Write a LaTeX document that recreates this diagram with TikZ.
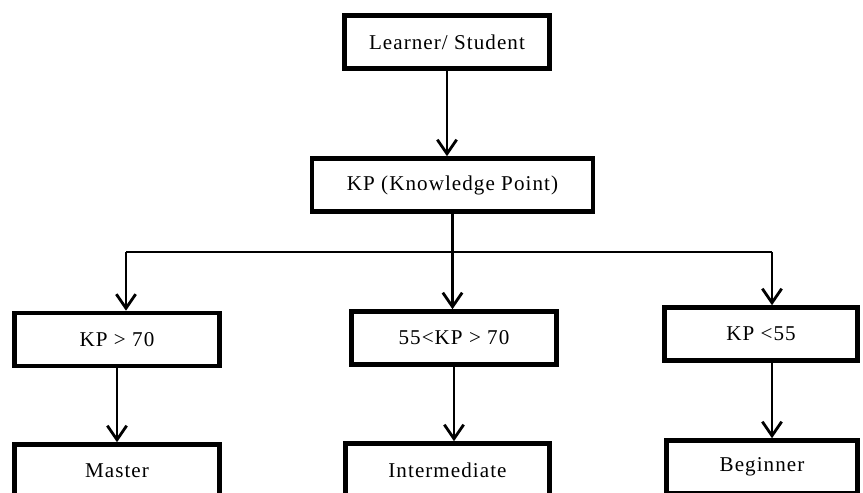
\documentclass[tikz,border=0pt]{standalone}
\usepackage{fontspec}
\setmainfont{Liberation Serif}
\newfontfamily\boxfont[LetterSpace=5]{Liberation Serif}
\usetikzlibrary{arrows.meta}

\begin{document}
\begin{tikzpicture}[
    x=0.02cm, y=-0.02cm,
    box/.style={draw, line width=2.6pt, minimum height=1.06cm, inner sep=0pt},
    connector/.style={-{Straight Barb[length=8pt, width=11pt, line width=1.6pt]}, line width=0.9pt},
    heavy/.style={line width=1.5pt},
    link/.style={line width=1.1pt}
]
\tikzstyle{every node}=[font=\boxfont\fontsize{12}{14}\selectfont]

\useasboundingbox (0,0) rectangle (863,493);
\clip (0,0) rectangle (863,493);

% --- HAUT ---
\node[box, minimum width=4.11cm] (learner) at (447,42) {Learner/ Student};
\node[box, minimum width=5.62cm] (kp) at (452.5,185) {KP (Knowledge Point)};

% --- NIVEAUX KP ---
\node[box, minimum width=4.11cm] (high) at (117,339.5) {KP > 70};
\node[box, minimum width=4.11cm] (mid) at (454,338) {55<KP > 70};
\node[box, minimum width=3.85cm] (low) at (761,334) {KP <55};

% --- RESULTATS (coupes en bas) ---
\node[box, minimum width=4.11cm] (master) at (117,471) {Master};
\node[box, minimum width=4.09cm] (inter) at (447.5,470) {Intermediate};
\node[box, minimum width=3.83cm] (begin) at (762,467) {Beginner};

% --- BARRE DE REPARTITION ---
\coordinate (bar-l) at (126,252);
\coordinate (bar-m) at (452.5,252);
\coordinate (bar-r) at (772,252);

% --- CONNEXIONS ---
\draw[connector] (learner.south) -- (learner.south |- kp.north);
\draw[heavy] (kp.south) -- (bar-m);
\draw[link] (bar-l) -- (bar-r);

\draw[connector] (bar-l) -- (bar-l |- high.north);
\draw[connector, heavy] (bar-m) -- (bar-m |- mid.north);
\draw[connector] (bar-r) -- (bar-r |- low.north);

\draw[connector] (high.south) -- (master.north);
\draw[connector, heavy] (mid.south) -- (mid.south |- inter.north);
\draw[connector] (bar-r |- low.south) -- (bar-r |- begin.north);

\end{tikzpicture}
\end{document}
